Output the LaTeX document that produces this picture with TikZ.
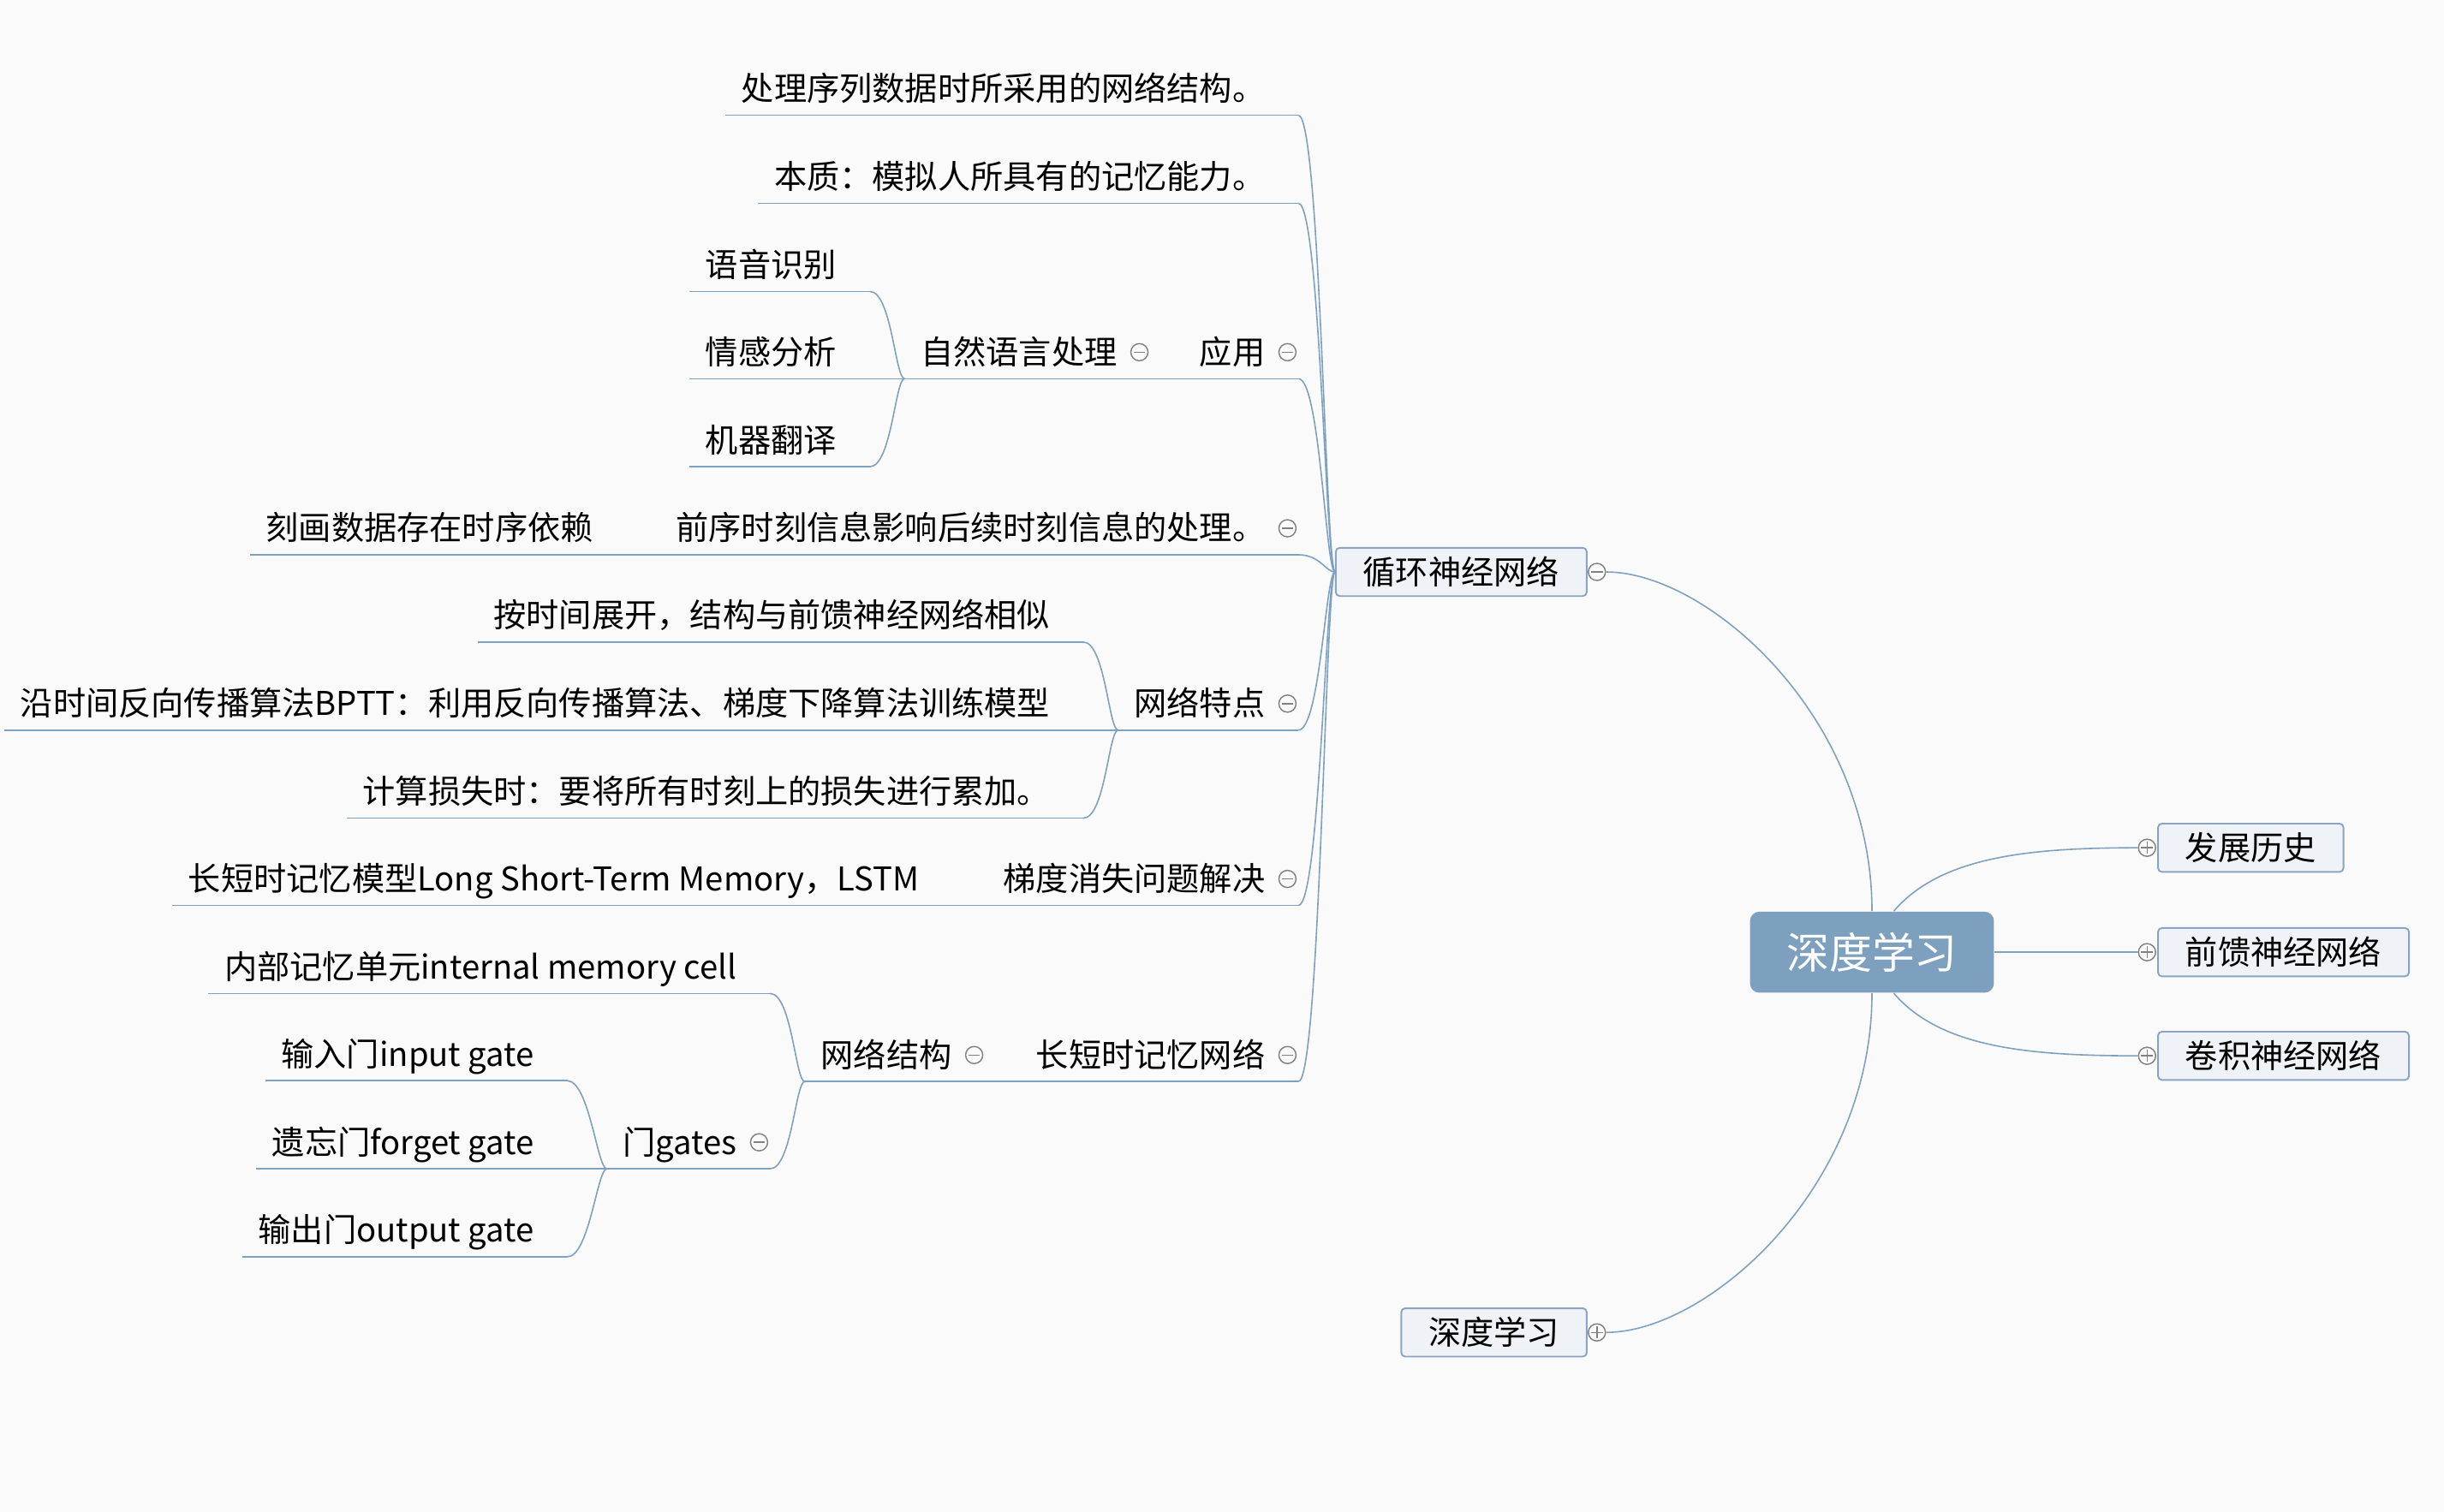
\documentclass[tikz,border=0pt]{standalone}
\usepackage{fontspec}
\usetikzlibrary{calc}
\newfontfamily\cjk{Noto Sans CJK SC}
\newcommand\topicfont{\cjk\fontsize{11.95pt}{14pt}\selectfont}
\newcommand\rootfont{\cjk\fontsize{15.6pt}{18pt}\selectfont}
\definecolor{bg}{RGB}{250,250,250}
\definecolor{linkblue}{RGB}{127,161,192}
\definecolor{rootfill}{RGB}{125,160,190}
\definecolor{boxfill}{RGB}{239,243,247}
\definecolor{boxline}{RGB}{137,165,195}
\definecolor{foldgray}{RGB}{128,128,128}

\begin{document}
\begin{tikzpicture}[x=0.02cm,y=-0.02cm,
link/.style={draw=linkblue,line width=0.5pt},
branch/.style={to path={.. controls +(-6,0) and +(14,0) .. (\tikztotarget)}},
topic/.style={font=\topicfont,anchor=south east,inner xsep=0pt,inner ysep=0.18cm,text depth=0pt,
  execute at begin node={\hspace*{0.2cm}},execute at end node={\hspace*{0.42cm}}},
box/.style={font=\topicfont,draw=boxline,fill=boxfill,line width=0.6pt,rounded corners=0.05cm,
  minimum height=0.62cm,inner xsep=0.35cm,inner ysep=0pt},
rootbox/.style={font=\rootfont,text=white,fill=rootfill,rounded corners=0.12cm,
  minimum width=3.13cm,minimum height=1.04cm,inner sep=0pt},
foldminus/.style={circle,draw=foldgray,fill=bg,line width=0.45pt,minimum size=0.22cm,inner sep=0pt,
  path picture={\draw[foldgray,line width=0.45pt] ([xshift=1pt]path picture bounding box.west)--([xshift=-1pt]path picture bounding box.east);}},
foldplus/.style={circle,draw=foldgray,fill=bg,line width=0.45pt,minimum size=0.22cm,inner sep=0pt,
  path picture={\draw[foldgray,line width=0.45pt] ([xshift=1pt]path picture bounding box.west)--([xshift=-1pt]path picture bounding box.east)
    ([yshift=-1pt]path picture bounding box.north)--([yshift=1pt]path picture bounding box.south);}}]

\fill[bg] (0,0) rectangle (1568,970);

\node[rootbox] (dl) at (1201,611) {深度学习};
\node[box] (rnn) at (937.5,367) {循环神经网络};
\node[box] (dlsub) at (958.5,855) {深度学习};
\node[box] (hist) at (1444,544) {发展历史};
\node[box] (ffnn) at (1465,611) {前馈神经网络};
\node[box] (cnn) at (1465,677.5) {卷积神经网络};

\node[topic] (def) at (833,74) {处理序列数据时所采用的网络结构。};
\node[topic] (ess) at (833,130.5) {本质：模拟人所具有的记忆能力。};
\node[topic] (app) at (833,243) {应用};
\node[topic] (nlp) at (738,243) {自然语言处理};
\node[topic] (asr) at (558,187) {语音识别};
\node[topic] (senti) at (558,243) {情感分析};
\node[topic] (mt) at (558,299.5) {机器翻译};
\node[topic] (seq) at (833,356) {前序时刻信息影响后续时刻信息的处理。};
\node[topic] (dep) at (402,356) {刻画数据存在时序依赖};
\node[topic] (feat) at (833,468.5) {网络特点};
\node[topic] (unroll) at (695,412) {按时间展开，结构与前馈神经网络相似};
\node[topic] (bptt) at (695,468.5) {沿时间反向传播算法BPTT：利用反向传播算法、梯度下降算法训练模型};
\node[topic] (loss) at (695,525) {计算损失时：要将所有时刻上的损失进行累加。};
\node[topic] (grad) at (833,581) {梯度消失问题解决};
\node[topic] (lstmm) at (611,581) {长短时记忆模型Long Short-Term Memory，LSTM};
\node[topic] (lstm) at (833,694) {长短时记忆网络};
\node[topic] (struct) at (632,694) {网络结构};
\node[topic] (cell) at (494,637.5) {内部记忆单元internal memory cell};
\node[topic] (gates) at (494,750) {门gates};
\node[topic] (ingate) at (364,693.5) {输入门input gate};
\node[topic] (fgate) at (364,750) {遗忘门forget gate};
\node[topic] (outgate) at (364,806.5) {输出门output gate};

\foreach \n in {def,ess,app,nlp,asr,senti,mt,seq,dep,feat,unroll,bptt,loss,grad,lstmm,lstm,struct,cell,gates,ingate,fgate,outgate}
  \draw[link] (\n.south west) -- (\n.south east);

\foreach \c in {def,ess,app,seq,feat,grad,lstm}
  \draw[link] (rnn.west) to[branch] (\c.south east);
\foreach \p/\c in {app/nlp,nlp/asr,nlp/senti,nlp/mt,seq/dep,feat/unroll,feat/bptt,feat/loss,grad/lstmm,lstm/struct,struct/cell,struct/gates,gates/ingate,gates/fgate,gates/outgate}
  \draw[link] (\p.south west) to[branch] (\c.south east);

\foreach \n in {app,nlp,seq,feat,grad,lstm,struct,gates}
  \node[foldminus] (f-\n) at ([shift={(-7,-17)}]\n.south east) {};
\node[foldminus] (f-rnn) at ([shift={(6,0)}]rnn.east) {};
\node[foldplus] (f-dlsub) at ([shift={(6,0)}]dlsub.east) {};
\node[foldplus] (f-hist) at ([shift={(-6.5,0)}]hist.west) {};
\node[foldplus] (f-ffnn) at ([shift={(-6.5,0)}]ffnn.west) {};
\node[foldplus] (f-cnn) at ([shift={(-6.5,0)}]cnn.west) {};

\draw[link] (f-rnn.east) .. controls +(65,0) and +(0,-125) .. (dl.north);
\draw[link] (f-dlsub.east) .. controls +(65,0) and +(0,125) .. (dl.south);
\draw[link] ($(dl.north)+(14,0)$) .. controls +(30,-35) and +(-70,0) .. (f-hist.west);
\draw[link] (dl.east) -- (f-ffnn.west);
\draw[link] ($(dl.south)+(14,0)$) .. controls +(30,35) and +(-70,0) .. (f-cnn.west);
\end{tikzpicture}
\end{document}
